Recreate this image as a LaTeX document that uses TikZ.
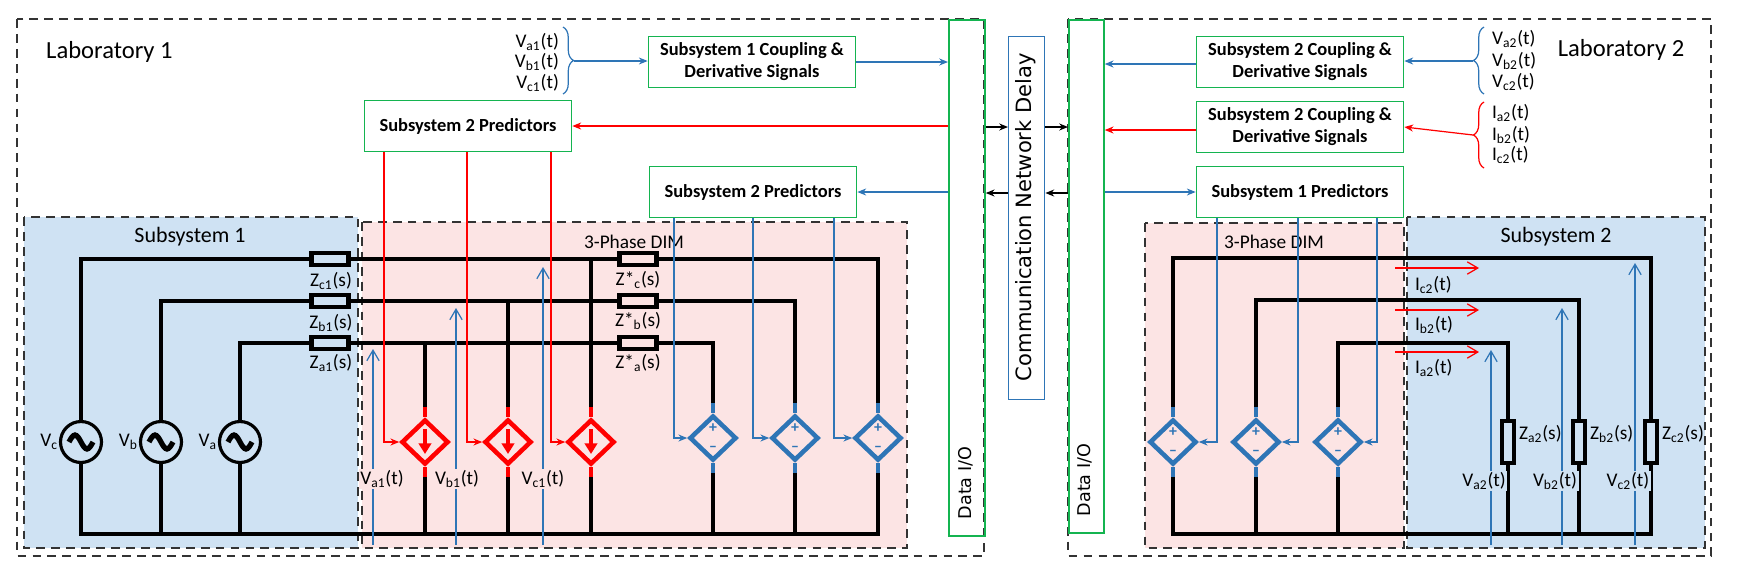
\documentclass[tikz,border=0pt]{standalone}
\usepackage{fontspec}
\setmainfont{Carlito}
\newfontfamily\dejavu{DejaVu Sans}
\usetikzlibrary{arrows.meta,shapes.geometric,decorations.pathreplacing,calc}
\definecolor{subfill}{RGB}{207,226,243}
\definecolor{dimfill}{RGB}{252,228,228}
\definecolor{grn}{RGB}{20,180,80}
\definecolor{sblue}{RGB}{46,117,182}
\definecolor{sred}{RGB}{255,0,0}
\begin{document}
\begin{tikzpicture}[x=0.02cm,y=-0.02cm,
 region/.style={draw=black!80,dash pattern=on 5pt off 3.5pt,line width=0.8pt},
 wire/.style={line width=2pt,black},
 stub/.style={line width=2.6pt},
 sig/.style={line width=0.7pt},
 tip/.style={-{Stealth[length=5pt,width=4pt]}},
 barb/.style={-{Straight Barb[length=6pt,width=7pt]}},
 gbox/.style={draw=grn,line width=1pt,fill=white,align=center,font=\bfseries\fontsize{10.5}{12.5}\selectfont,inner sep=0pt,minimum width=4.14cm,minimum height=1.02cm},
 imp/.style={draw=black,line width=2.8pt,minimum width=0.75cm,minimum height=0.24cm,inner sep=0pt},
 vimp/.style={draw=black,line width=2.8pt,minimum width=0.24cm,minimum height=0.84cm,inner sep=0pt,fill=subfill},
 dia/.style={diamond,draw,line width=2.6pt,minimum width=0.94cm,minimum height=0.9cm,inner sep=0pt,fill=dimfill},
 src/.style={circle,draw,line width=1.8pt,minimum size=0.82cm,inner sep=0pt,fill=subfill},
 lbl/.style={font=\fontsize{11}{12}\selectfont,inner sep=1pt},
 ttl/.style={font=\fontsize{12.5}{13}\selectfont},
 pm/.style={sblue,font=\bfseries\fontsize{9}{9}\selectfont,inner sep=0pt},
 ]
\useasboundingbox (0,0) rectangle (1744,576);
% laboratories
\draw[region] (17,19) rectangle (984,556);
\draw[region] (1068,19) rectangle (1711,556);
\node[font=\fontsize{14}{15}\selectfont,anchor=west] (lab1) at (40,52) {Laboratory 1};
\node[font=\fontsize{14}{15}\selectfont] (lab2) at (1621,50) {Laboratory 2};
% regions
\draw[region,fill=subfill] (24,217) rectangle (358,548);
\draw[region,fill=dimfill] (362,222) rectangle (907,548);
\draw[region,fill=dimfill] (1145,223) rectangle (1404,548);
\draw[region,fill=subfill] (1407,217) rectangle (1705,548);
\node[ttl] (t1) at (190,237) {Subsystem 1};
\node[lbl] (t2) at (634,242) {3-Phase DIM};
\node[lbl] (t3) at (1274,242) {3-Phase DIM};
\node[ttl] (t4) at (1556,237) {Subsystem 2};
% IO and comm
\node[draw=grn,line width=1pt,minimum width=0.72cm,minimum height=10.32cm,inner sep=0pt,anchor=north west] (IO1) at (948,19) {};
\node[draw=grn,line width=1pt,minimum width=0.70cm,minimum height=10.26cm,inner sep=0pt,anchor=north west] (IO2) at (1068,19) {};
\node[draw=sblue,line width=0.8pt,minimum width=0.72cm,minimum height=7.26cm,inner sep=0pt,anchor=north west] (COM) at (1008,36) {};
\node[rotate=90,font=\dejavu\fontsize{10}{10}\selectfont] (io1t) at (966,483) {Data I/O};
\node[rotate=90,font=\dejavu\fontsize{10}{10}\selectfont] (io2t) at (1085,480) {Data I/O};
\node[rotate=90,font=\dejavu\fontsize{12}{12}\selectfont] (comt) at (1026,217) {Communication Network Delay};
\draw[sig,tip] (IO1.east|-0,127) -- (COM.west|-0,127);
\draw[sig,tip] (COM.east|-0,127) -- (IO2.west|-0,127);
\draw[sig,tip] (IO2.west|-0,193) -- (COM.east|-0,193);
\draw[sig,tip] (COM.west|-0,193) -- (IO1.east|-0,193);
% green boxes left
\node[gbox] (S1C) at (752,62) {Subsystem 1 Coupling \&\\Derivative Signals};
\node[gbox] (S2PA) at (468,126) {Subsystem 2 Predictors};
\node[gbox] (S2PB) at (753,192) {Subsystem 2 Predictors};
\draw[sblue,sig,tip] (S1C.east) -- (S1C.east-|IO1.west);
\draw[sred,sig,tip] (IO1.west|-S2PA.east) -- (S2PA.east);
\draw[sblue,sig,tip] (IO1.west|-S2PB.east) -- (S2PB.east);
\draw[sblue,sig,decorate,decoration={brace,amplitude=6pt}] (563,27) -- (563,94);
\coordinate (brL) at (574,61);
\draw[sblue,sig,tip] (brL) -- (S1C.west|-brL);
\node[lbl,anchor=east] (la1) at (561,42) {V\textsubscript{a1}(t)};
\node[lbl,anchor=east] (lb1) at (561,62) {V\textsubscript{b1}(t)};
\node[lbl,anchor=east] (lc1) at (561,83) {V\textsubscript{c1}(t)};
% green boxes right
\node[gbox] (S2CV) at (1300,62) {Subsystem 2 Coupling \&\\Derivative Signals};
\node[gbox] (S2CI) at (1300,127) {Subsystem 2 Coupling \&\\Derivative Signals};
\node[gbox] (S1P) at (1300,192) {Subsystem 1 Predictors};
\draw[sblue,sig,tip] (S2CV.west|-0,64) -- (IO2.east|-0,64);
\draw[sred,sig,tip] (S2CI.west|-0,130) -- (IO2.east|-0,130);
\draw[sblue,sig,tip] (IO2.east|-S1P.west) -- (S1P.west);
\draw[sblue,sig,decorate,decoration={brace,amplitude=6pt}] (1484,94) -- (1484,27);
\draw[sred,sig,decorate,decoration={brace,amplitude=6pt}] (1484,168) -- (1484,102);
\coordinate (brV) at (1473,61);
\coordinate (brI) at (1473,135);
\draw[sblue,sig,tip] (brV) -- (S2CV.east|-brV);
\draw[sred,sig,tip] (brI) -- (S2CI.east);
\node[lbl,anchor=west] (va2) at (1490,39) {V\textsubscript{a2}(t)};
\node[lbl,anchor=west] (vb2) at (1490,61) {V\textsubscript{b2}(t)};
\node[lbl,anchor=west] (vc2) at (1490,82) {V\textsubscript{c2}(t)};
\node[lbl,anchor=west] (ia2) at (1490,113) {I\textsubscript{a2}(t)};
\node[lbl,anchor=west] (ib2) at (1490,135) {I\textsubscript{b2}(t)};
\node[lbl,anchor=west] (ic2) at (1490,155) {I\textsubscript{c2}(t)};
% ---------- left circuit ----------
\node[src] (Vc) at (81,442) {};
\node[src] (Vb) at (161,442) {};
\node[src] (Va) at (240,442) {};
\foreach \s in {Va,Vb,Vc}{
 \draw[line width=3pt] ($(\s)+(-12,0)$) sin ++(6,-7) cos ++(6,7) sin ++(6,7) cos ++(6,-7);}
\node[lbl,anchor=east] (lVc) at (60,442) {V\textsubscript{c}};
\node[lbl,anchor=east] (lVb) at (140,442) {V\textsubscript{b}};
\node[lbl,anchor=east] (lVa) at (219,442) {V\textsubscript{a}};
\node[dia,draw=sred] (R1) at (425,442) {};
\node[dia,draw=sred] (R2) at (508,442) {};
\node[dia,draw=sred] (R3) at (591,442) {};
\node[dia,draw=sblue] (B1) at (713,438) {};
\node[dia,draw=sblue] (B2) at (795,438) {};
\node[dia,draw=sblue] (B3) at (878,438) {};
\foreach \d in {R1,R2,R3}{
 \draw[sred,line width=2.4pt,-{Triangle[length=6pt,width=7pt]}] ($(\d)+(0,-13)$) -- ($(\d)+(0,12)$);
 \draw[sred,stub] ($(\d.north)+(0,-10)$) -- (\d.north);
 \draw[sred,stub] ($(\d.south)+(0,10)$) -- (\d.south);}
\foreach \d in {B1,B2,B3}{
 \node[pm] at ($(\d)+(0,-10)$) {+};
 \node[pm] at ($(\d)+(0,11)$) {--};
 \draw[sblue,stub] ($(\d.north)+(0,-10)$) -- (\d.north);
 \draw[sblue,stub] ($(\d.south)+(0,10)$) -- (\d.south);}
% wires
\draw[wire] (Vc.north) -- (Vc.north|-0,259) -| ($(B3.north)+(0,-10)$);
\draw[wire] (Vb.north) -- (Vb.north|-0,301) -| ($(B2.north)+(0,-10)$);
\draw[wire] (Va.north) -- (Va.north|-0,343) -| ($(B1.north)+(0,-10)$);
\draw[wire] (R3.north|-0,259) -- ($(R3.north)+(0,-10)$);
\draw[wire] (R2.north|-0,301) -- ($(R2.north)+(0,-10)$);
\draw[wire] (R1.north|-0,343) -- ($(R1.north)+(0,-10)$);
\draw[wire] (Vc.south) -- (Vc.south|-0,534) -- (B3.south|-0,534) -- ($(B3.south)+(0,10)$);
\foreach \d in {Vb,Va}{\draw[wire] (\d.south) -- (\d.south|-0,534);}
\foreach \d in {R1,R2,R3,B1,B2}{\draw[wire] ($(\d.south)+(0,10)$) -- (\d.south|-0,534);}
% impedances
\node[imp,fill=subfill] (Zc1) at (330,259) {};
\node[imp,fill=subfill] (Zb1) at (330,301) {};
\node[imp,fill=subfill] (Za1) at (330,343) {};
\node[imp,fill=dimfill] (Zsc) at (638,259) {};
\node[imp,fill=dimfill] (Zsb) at (638,301) {};
\node[imp,fill=dimfill] (Zsa) at (638,343) {};
\node[lbl] (lZc1) at (331,281) {Z\textsubscript{c1}(s)};
\node[lbl] (lZb1) at (331,323) {Z\textsubscript{b1}(s)};
\node[lbl] (lZa1) at (331,363) {Z\textsubscript{a1}(s)};
\node[lbl] (lZsc) at (638,280) {Z*\textsubscript{c}(s)};
\node[lbl] (lZsb) at (638,321) {Z*\textsubscript{b}(s)};
\node[lbl] (lZsa) at (638,363) {Z*\textsubscript{a}(s)};
% control signals
\draw[sred,sig,tip] (S2PA.south-|384,0) |- (R1.west);
\draw[sred,sig,tip] (S2PA.south-|467,0) |- (R2.west);
\draw[sred,sig,tip] (S2PA.south-|551,0) |- (R3.west);
\draw[sblue,sig,tip] (S2PB.south-|674,0) |- (B1.west);
\draw[sblue,sig,tip] (S2PB.south-|753,0) |- (B2.west);
\draw[sblue,sig,tip] (S2PB.south-|834,0) |- (B3.west);
% voltage measurements
\draw[sblue,sig,barb] (373,545) -- (373,349);
\draw[sblue,sig,barb] (456,545) -- (456,308);
\draw[sblue,sig,barb] (543,545) -- (543,267);
\node[lbl,fill=dimfill] (mVa1) at (382,479) {V\textsubscript{a1}(t)};
\node[lbl,fill=dimfill] (mVb1) at (457,479) {V\textsubscript{b1}(t)};
\node[lbl,fill=dimfill] (mVc1) at (543,479) {V\textsubscript{c1}(t)};
% ---------- right circuit ----------
\node[dia,draw=sblue] (E1) at (1173,442) {};
\node[dia,draw=sblue] (E2) at (1256,442) {};
\node[dia,draw=sblue] (E3) at (1338,442) {};
\foreach \d in {E1,E2,E3}{
 \node[pm] at ($(\d)+(0,-10)$) {+};
 \node[pm] at ($(\d)+(0,11)$) {--};
 \draw[sblue,stub] ($(\d.north)+(0,-10)$) -- (\d.north);
 \draw[sblue,stub] ($(\d.south)+(0,10)$) -- (\d.south);}
\node[vimp] (Za2) at (1508,442) {};
\node[vimp] (Zb2) at (1579,442) {};
\node[vimp] (Zc2) at (1651,442) {};
\draw[wire] ($(E1.north)+(0,-10)$) -- (E1.north|-0,258) -| (Zc2.north);
\draw[wire] ($(E2.north)+(0,-10)$) -- (E2.north|-0,300) -| (Zb2.north);
\draw[wire] ($(E3.north)+(0,-10)$) -- (E3.north|-0,343) -| (Za2.north);
\draw[wire] ($(E1.south)+(0,10)$) -- (E1.south|-0,534) -- (Zc2.south|-0,534) -- (Zc2.south);
\foreach \d in {E2,E3}{\draw[wire] ($(\d.south)+(0,10)$) -- (\d.south|-0,534);}
\foreach \d in {Za2,Zb2}{\draw[wire] (\d.south) -- (\d.south|-0,534);}
\node[lbl,anchor=west] (lZa2) at (1517,434) {Z\textsubscript{a2}(s)};
\node[lbl,anchor=west] (lZb2) at (1588,434) {Z\textsubscript{b2}(s)};
\node[lbl,anchor=west] (lZc2) at (1660,434) {Z\textsubscript{c2}(s)};
\draw[sblue,sig,tip] (S1P.south-|1217,0) |- (E1.east);
\draw[sblue,sig,tip] (S1P.south-|1298,0) |- (E2.east);
\draw[sblue,sig,tip] (S1P.south-|1377,0) |- (E3.east);
% currents
\draw[sred,sig,barb] (1395,268) -- (1479,268);
\draw[sred,sig,barb] (1395,310) -- (1479,310);
\draw[sred,sig,barb] (1395,352) -- (1479,352);
\node[lbl,anchor=west] (mIc2) at (1413,285) {I\textsubscript{c2}(t)};
\node[lbl,anchor=west] (mIb2) at (1413,325) {I\textsubscript{b2}(t)};
\node[lbl,anchor=west] (mIa2) at (1413,368) {I\textsubscript{a2}(t)};
% voltages right
\draw[sblue,sig,barb] (1491,545) -- (1491,350);
\draw[sblue,sig,barb] (1562,545) -- (1562,308);
\draw[sblue,sig,barb] (1635,545) -- (1635,263);
\node[lbl,fill=subfill] (mVa2) at (1484,481) {V\textsubscript{a2}(t)};
\node[lbl,fill=subfill] (mVb2) at (1555,481) {V\textsubscript{b2}(t)};
\node[lbl,fill=subfill] (mVc2) at (1628,481) {V\textsubscript{c2}(t)};
\end{tikzpicture}
\end{document}
